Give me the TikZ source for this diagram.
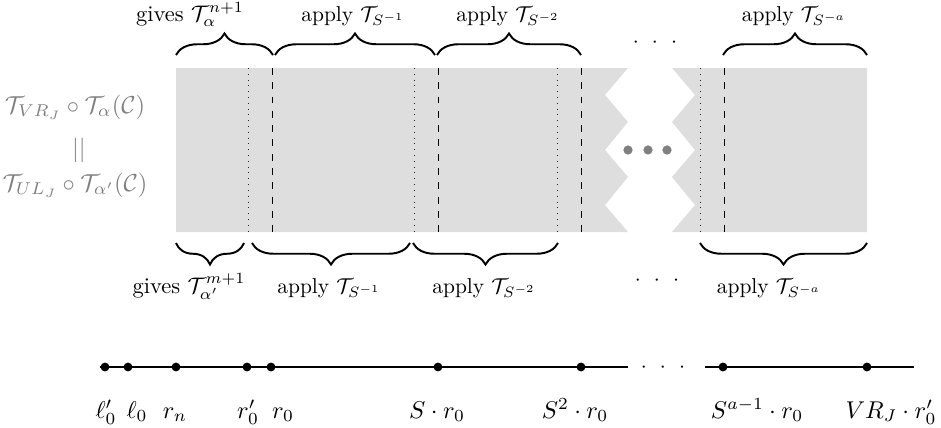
\documentclass[tikz,border=0pt]{standalone}
\usepackage{fix-cm}
\usepackage{amsmath}
\usetikzlibrary{decorations.pathreplacing}
\tikzset{
  grayfill/.style={fill=black!13, draw=none},
  dashln/.style={black, line width=0.4pt, dash pattern=on 3.2pt off 3.45pt},
  dotln/.style={black!85, line width=0.4pt, dash pattern=on 0.4pt off 2.3pt},
  bracetop/.style={decorate, decoration={brace, amplitude=10pt}, line width=0.9pt},
  bracebot/.style={decorate, decoration={brace, amplitude=10pt, mirror}, line width=0.9pt},
  lbl/.style={anchor=base, inner sep=0pt},
  giveslbl/.style={anchor=base, inner sep=0pt, font=\fontsize{10.45}{12.5}\selectfont},
  biglbl/.style={anchor=base, inner sep=0pt, font=\fontsize{11.3}{13.5}\selectfont},
  sidelbl/.style={anchor=base, inner sep=0pt, text=gray, font=\fontsize{11.4}{13.5}\selectfont},
  ptdot/.style={circle, fill=black, inner sep=0pt, minimum size=4.1pt},
  bigdot/.style={circle, fill=gray, inner sep=0pt, minimum size=4.3pt},
  nline/.style={line width=0.8pt},
}
\newcommand{\mydots}{$\cdot\mkern7mu\cdot\mkern7mu\cdot$}
\begin{document}
\begin{tikzpicture}[x=0.4651pt, y=-0.4651pt]
\useasboundingbox (0,0) rectangle (941,428);

% grey band with zigzag gap
\fill[grayfill] (176,68) -- (628,68) -- (605,95) -- (628,122) -- (605,150) -- (628,177) -- (605,205) -- (628,232) -- (176,232) -- cycle;
\fill[grayfill] (672,68) -- (867,68) -- (867,232) -- (672,232) -- (695,205) -- (672,177) -- (695,150) -- (672,122) -- (695,95) -- cycle;

% dotted and dashed separators
\foreach \xx in {248,414,557,700} \draw[dotln] (\xx,68) -- (\xx,232);
\foreach \xx in {272,438,581,724} \draw[dashln] (\xx,68) -- (\xx,232);

% grey dots in the gap
\node[bigdot] (g1) at (628,150) {};
\node[bigdot] (g2) at (648,150) {};
\node[bigdot] (g3) at (667,150) {};

% left labels
\node[sidelbl] (s1) at (75,113) {$\mathcal{T}_{VR_J}\circ\mathcal{T}_{\alpha}(\mathcal{C})$};
\node[sidelbl] (s2) at (79,156) {$||$};
\node[sidelbl] (s3) at (75,191) {$\mathcal{T}_{UL_J}\circ\mathcal{T}_{\alpha'}(\mathcal{C})$};

% top braces
\draw[bracetop] (176,55) -- (273,55);
\draw[bracetop] (275,55) -- (435,55);
\draw[bracetop] (437,55) -- (581,55);
\draw[bracetop] (723,55) -- (867,55);
\node[giveslbl] (t1) at (190,21) {gives $\mathcal{T}_{\alpha}^{n+1}$};
\node[lbl] (t2) at (353,21) {apply $\mathcal{T}_{S^{-1}}$};
\node[lbl] (t3) at (508,21) {apply $\mathcal{T}_{S^{-2}}$};
\node[lbl] (t4) at (794,21) {apply $\mathcal{T}_{S^{-a}}$};
\node[lbl] (td) at (655,47.4) {\mydots};

% bottom braces
\draw[bracebot] (176,243) -- (244,243);
\draw[bracebot] (252,243) -- (410,243);
\draw[bracebot] (413,243) -- (558,243);
\draw[bracebot] (700,243) -- (867,243);
\node[giveslbl] (b1) at (189,293) {gives $\mathcal{T}_{\alpha'}^{m+1}$};
\node[lbl] (b2) at (329,293) {apply $\mathcal{T}_{S^{-1}}$};
\node[lbl] (b3) at (484,293) {apply $\mathcal{T}_{S^{-2}}$};
\node[lbl] (b4) at (769,293) {apply $\mathcal{T}_{S^{-a}}$};
\node[lbl] (bd) at (657,285.4) {\mydots};

% number line
\coordinate (nA) at (100,367);
\coordinate (nB) at (628,367);
\coordinate (nC) at (705,367);
\coordinate (nD) at (914,367);
\draw[nline] (nA) -- (nB);
\draw[nline] (nC) -- (nD);
\node[lbl] (nd) at (663,372.4) {\mydots};

\node[ptdot] (p1) at (105,367) {};
\node[ptdot] (p2) at (128,367) {};
\node[ptdot] (p3) at (176,367) {};
\node[ptdot] (p4) at (247,367) {};
\node[ptdot] (p5) at (271,367) {};
\node[ptdot] (p6) at (438,367) {};
\node[ptdot] (p7) at (581,367) {};
\node[ptdot] (p8) at (723,367) {};
\node[ptdot] (p9) at (867,367) {};

\node[biglbl] (q1) at (106,418) {$\ell_0'$};
\node[biglbl] (q2) at (137,418) {$\ell_0$};
\node[biglbl] (q3) at (175,418) {$r_n$};
\node[biglbl] (q4) at (248,418) {$r_0'$};
\node[biglbl] (q5) at (283,418) {$r_0$};
\node[biglbl] (q6) at (437,418) {$S\cdot r_0$};
\node[biglbl] (q7) at (575,418) {$S^2\cdot r_0$};
\node[biglbl] (q8) at (757,418) {$S^{a-1}\cdot r_0$};
\node[biglbl] (q9) at (891,418) {$VR_J\cdot r_0'$};
\end{tikzpicture}
\end{document}
